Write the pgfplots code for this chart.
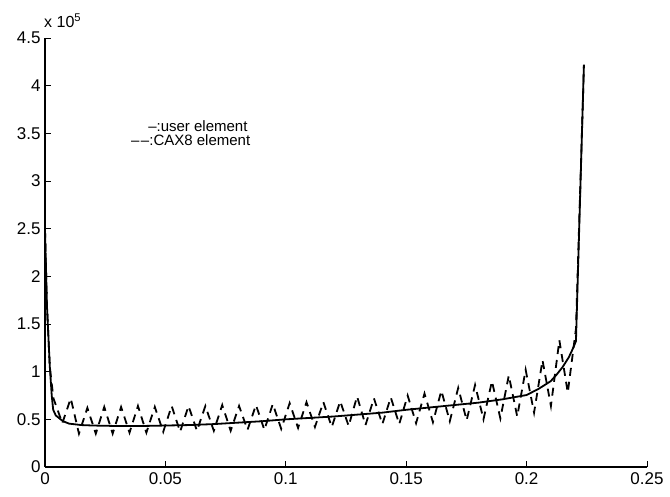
\documentclass[border=0pt]{standalone}
\usepackage{fontspec}
\setmainfont{Liberation Sans}
\usepackage{pgfplots}
\pgfplotsset{compat=1.18}
\begin{document}
\begin{tikzpicture}
\useasboundingbox (0,0) rectangle (670bp,497bp);
\begin{axis}[
  at={(45bp,30bp)}, anchor=south west,
  scale only axis, width=602bp, height=429bp,
  xmin=0, xmax=0.25, ymin=0, ymax=4.5,
  axis x line=bottom, axis y line=left,
  axis line style={-, line width=1.2bp},
  tick align=inside, major tick length=6bp,
  tick style={line width=1bp, black},
  xtick={0,0.05,0.1,0.15,0.2,0.25},
  xticklabels={0,0.05,0.1,0.15,0.2,0.25},
  ytick={0,0.5,1,1.5,2,2.5,3,3.5,4,4.5},
  yticklabels={0,0.5,1,1.5,2,2.5,3,3.5,4,4.5},
  ticklabel style={font=\fontsize{17bp}{19bp}\selectfont},
  yticklabel style={xshift=-1bp},
  xticklabel style={yshift=-2bp},
  clip=false,
]
\addplot[black, line width=1.8bp] coordinates {
(0,2.49) (0.0008,1.7) (0.002,1.05) (0.0028,0.75) (0.0034,0.6) (0.0045,0.54) (0.0075,0.48)
(0.01,0.455) (0.015,0.44) (0.02,0.435) (0.03,0.43) (0.04,0.43) (0.05,0.435)
(0.06,0.44) (0.07,0.45) (0.08,0.465) (0.09,0.48) (0.1,0.50) (0.11,0.515)
(0.12,0.53) (0.13,0.55) (0.14,0.57) (0.15,0.60) (0.16,0.625) (0.17,0.65)
(0.18,0.675) (0.19,0.71) (0.2,0.755) (0.205,0.82) (0.21,0.9) (0.2125,0.97)
(0.215,1.05) (0.2175,1.15) (0.219,1.23) (0.2205,1.32) (0.2238,4.22)
};
\addplot[black, line width=1.8bp, dash pattern=on 8bp off 6bp] coordinates {
(0,2.49) (0.0008,1.7) (0.002,1.05) (0.0035,0.72) (0.0072,0.46) (0.0107,0.72)
(0.0141,0.35) (0.0176,0.62) (0.0211,0.35) (0.0246,0.63) (0.0281,0.35) (0.0316,0.63)
(0.0351,0.36) (0.0386,0.64) (0.0421,0.36) (0.0456,0.63) (0.0491,0.37) (0.0526,0.64)
(0.0561,0.37) (0.0596,0.64) (0.0631,0.38) (0.0666,0.64) (0.0701,0.38) (0.0736,0.65)
(0.0771,0.38) (0.0806,0.64) (0.0841,0.39) (0.0876,0.65) (0.0911,0.39) (0.0946,0.66)
(0.0981,0.40) (0.1016,0.67) (0.1051,0.41) (0.1086,0.68) (0.1121,0.42) (0.1156,0.68)
(0.1191,0.42) (0.1226,0.69) (0.1261,0.43) (0.1296,0.74) (0.1331,0.44) (0.1366,0.72)
(0.1401,0.45) (0.1436,0.73) (0.1471,0.45) (0.1506,0.75) (0.1541,0.46) (0.1576,0.77)
(0.1611,0.47) (0.1646,0.80) (0.1681,0.48) (0.1716,0.83) (0.1751,0.49) (0.1786,0.86)
(0.1821,0.50) (0.1856,0.90) (0.1891,0.51) (0.1926,0.96) (0.1961,0.53) (0.1996,1.02)
(0.2031,0.57) (0.2066,1.12) (0.2101,0.64) (0.2136,1.33) (0.2171,0.78) (0.2205,1.45)
(0.2238,4.2)
};
\node[anchor=base west, inner sep=0pt, font=\fontsize{15bp}{16bp}\selectfont] at (axis cs:0.0428,3.52) {\textendash:user element};
\node[anchor=base west, inner sep=0pt, font=\fontsize{15bp}{16bp}\selectfont] at (axis cs:0.0357,3.37) {\textendash\kern1.5bp\textendash:CAX8 element};
\end{axis}
\node[anchor=base west, inner sep=0pt, font=\fontsize{16bp}{18bp}\selectfont] at (44bp,469bp) {x 10\textsuperscript{5}};
\end{tikzpicture}
\end{document}
